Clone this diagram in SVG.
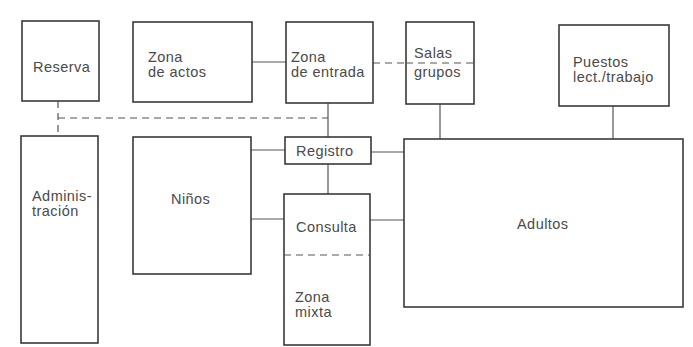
<svg xmlns="http://www.w3.org/2000/svg" width="693" height="347" viewBox="0 0 693 347">
<style>
.box{fill:#fff;stroke:#3a3a3a;stroke-width:1.6}
.ln{fill:none;stroke:#555;stroke-width:1.2}
.dash{fill:none;stroke:#555;stroke-width:1.2;stroke-dasharray:7 5}
text{font-family:"Liberation Sans",Arial,sans-serif;font-size:14.5px;letter-spacing:0.45px;fill:#4a4a4a}
</style>
<rect width="693" height="347" fill="#fff"/>
<g id="connectors">
<path class="ln" d="M252 62H286"/>
<path class="dash" d="M373 63H474"/>
<path class="ln" d="M328 103V137"/>
<path class="ln" d="M328 164V194"/>
<path class="ln" d="M371 152H404"/>
<path class="ln" d="M251 150H285"/>
<path class="ln" d="M251 219H284"/>
<path class="ln" d="M370 220H404"/>
<path class="ln" d="M440 104V139"/>
<path class="ln" d="M613 106V139"/>
<path class="dash" d="M58 101V136"/>
<path class="dash" d="M58 118H328"/>
</g>
<g id="reserva"><rect class="box" x="22" y="21" width="77" height="80"/><text x="33" y="72">Reserva</text></g>
<g id="zona-actos"><rect class="box" x="133" y="22" width="119" height="80"/><text x="148" y="62">Zona</text><text x="148" y="77">de actos</text></g>
<g id="zona-entrada"><rect class="box" x="286" y="22" width="87" height="81"/><text x="291" y="62">Zona</text><text x="291" y="77">de entrada</text></g>
<g id="salas-grupos"><rect class="box" x="406" y="22" width="68" height="82"/><text x="414" y="58">Salas</text><text x="414" y="77">grupos</text></g>
<path class="dash" d="M406 63H474"/>
<g id="puestos"><rect class="box" x="559" y="25" width="110" height="81"/><text x="573" y="67">Puestos</text><text x="573" y="82">lect./trabajo</text></g>
<g id="registro"><rect class="box" x="285" y="137" width="86" height="27"/><text x="296" y="156">Registro</text></g>
<g id="administracion"><rect class="box" x="21" y="136" width="77" height="207"/><text x="32" y="201">Adminis-</text><text x="32" y="216">tración</text></g>
<g id="ninos"><rect class="box" x="133" y="137" width="118" height="137"/><text x="171" y="204">Niños</text></g>
<g id="consulta-mixta"><rect class="box" x="284" y="194" width="86" height="151"/><path class="dash" d="M284 255H370"/><text x="296" y="232">Consulta</text><text x="295" y="302">Zona</text><text x="295" y="317">mixta</text></g>
<g id="adultos"><rect class="box" x="404" y="139" width="279" height="168"/><text x="517" y="229">Adultos</text></g>
</svg>
